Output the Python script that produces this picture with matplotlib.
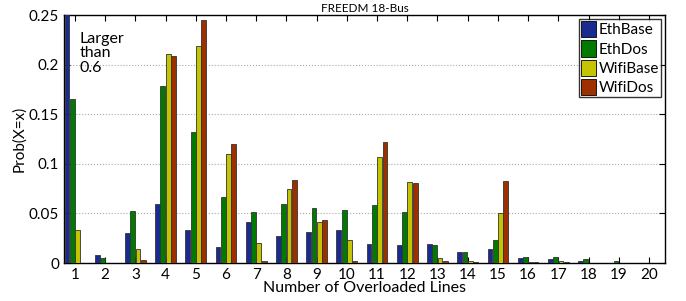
import numpy as np
import matplotlib
matplotlib.use('Agg')
import matplotlib.pyplot as plt

plt.rcParams['font.family'] = ['Lato', 'DejaVu Sans']

# ── Data ──────────────────────────────────────────────────────────
lines = np.arange(1, 21)
eth_base = [0.60, 0.0081, 0.0307, 0.060, 0.0338, 0.0159, 0.0416, 0.0274, 0.0314, 0.0338,
            0.0196, 0.0186, 0.0189, 0.0115, 0.0139, 0.0050, 0.0040, 0.0017, 0.0003, 0.0002]
eth_dos = [0.165, 0.0054, 0.052, 0.178, 0.132, 0.0669, 0.0514, 0.0598, 0.0551, 0.0534,
           0.0581, 0.0514, 0.0186, 0.0108, 0.0233, 0.0064, 0.0057, 0.0044, 0.0017, 0.0002]
wifi_base = [0.033, 0.0005, 0.0145, 0.211, 0.219, 0.1098, 0.0206, 0.0747, 0.0409, 0.0236,
             0.1068, 0.0821, 0.0047, 0.0020, 0.0507, 0.0013, 0.0020, 0.0005, 0.0003, 0.0002]
wifi_dos = [0.0005, 0.0005, 0.0027, 0.209, 0.245, 0.120, 0.0017, 0.0834, 0.0439, 0.0017,
            0.122, 0.0811, 0.0017, 0.0007, 0.0831, 0.0007, 0.0007, 0.0005, 0.0003, 0.0002]

series = [('EthBase', eth_base, '#1a2b8f'),
          ('EthDos', eth_dos, '#007a00'),
          ('WifiBase', wifi_base, '#c4c400'),
          ('WifiDos', wifi_dos, '#9e3000')]

# ── Plot ──────────────────────────────────────────────────────────
fig = plt.figure(figsize=(6.86, 3.01), dpi=100)
ax = fig.add_axes([0.0933, 0.126, 0.876, 0.824])

step = 0.175
width = 0.16
for i, (name, vals, color) in enumerate(series):
    ax.bar(lines + (i - 1.5) * step, vals, width, color=color, label=name,
           edgecolor='#333333', lw=0.6, zorder=3)

ax.set_xlim(0.64, 20.53)
ax.set_ylim(0, 0.25)
ax.set_xticks(lines)
ax.set_yticks([0, 0.05, 0.1, 0.15, 0.2, 0.25])
ax.set_yticklabels(['0', '0.05', '0.1', '0.15', '0.2', '0.25'])
ax.tick_params(direction='in', top=True, right=True, labelsize=11, length=4, width=0.8)
ax.yaxis.grid(True, ls=':', color='#aaaaaa', lw=0.8, zorder=0)
for s in ax.spines.values():
    s.set_linewidth(1.0)

ax.text(1.15, 0.233, 'Larger\nthan\n0.6', fontsize=11.5, va='top', ha='left',
        linespacing=1.05)

ax.set_xlabel('Number of Overloaded Lines', fontsize=11.5, labelpad=-1)
ax.set_ylabel('Prob(X=x)', fontsize=11, labelpad=2)
ax.set_title('FREEDM 18-Bus', fontsize=8.5, pad=2)

leg = ax.legend(loc='upper right', fontsize=11, fancybox=False, edgecolor='black',
                handlelength=1.0, handleheight=1.25, handletextpad=0.15,
                borderpad=0.15, labelspacing=0.2, borderaxespad=0.25)
leg.get_frame().set_linewidth(1.0)
for h in leg.legend_handles:
    h.set_edgecolor('black')

plt.savefig('out.png', dpi=100)
